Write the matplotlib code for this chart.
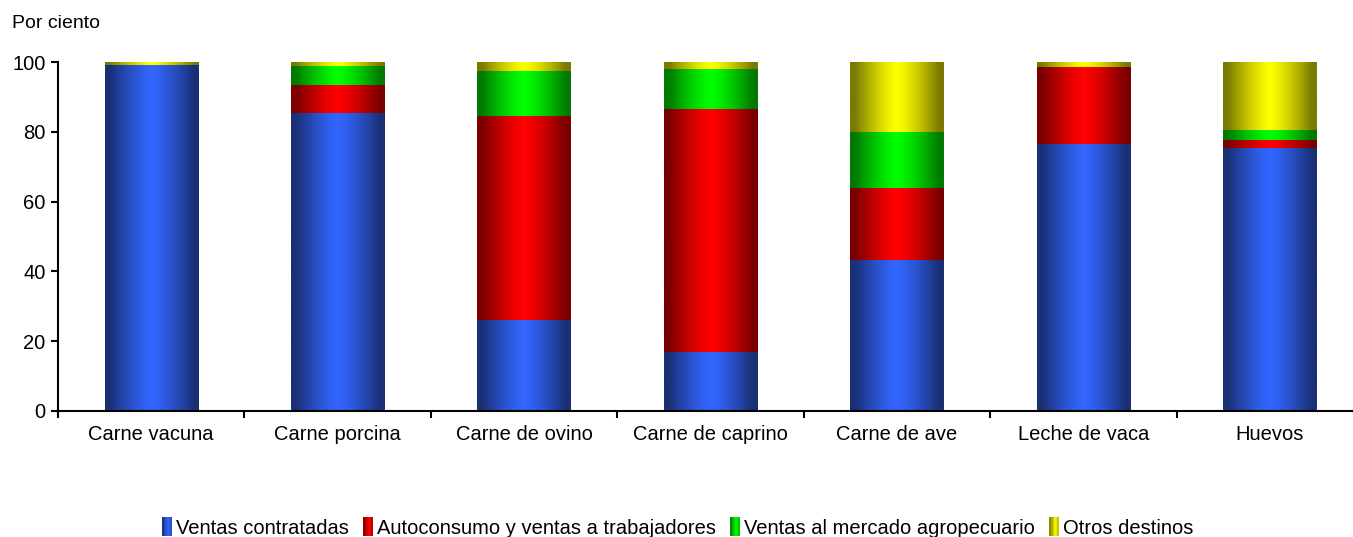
import matplotlib
matplotlib.use("Agg")
import matplotlib.pyplot as plt
import numpy as np
from matplotlib.colors import LinearSegmentedColormap
from matplotlib.patches import Rectangle
from matplotlib.legend_handler import HandlerBase

categorias = ["Carne vacuna", "Carne porcina", "Carne de ovino", "Carne de caprino",
              "Carne de ave", "Leche de vaca", "Huevos"]
series = ["Ventas contratadas", "Autoconsumo y ventas a trabajadores",
          "Ventas al mercado agropecuario", "Otros destinos"]
ventas_contratadas = [99.0, 85.4, 26.1, 17.0, 43.3, 76.5, 75.4]
autoconsumo = [0.0, 8.0, 58.4, 69.5, 20.6, 22.1, 2.3]
mercado_agro = [0.0, 5.5, 13.0, 11.5, 16.1, 0.0, 2.8]
otros = [1.0, 1.1, 2.5, 2.0, 20.0, 1.4, 19.5]
valores = [ventas_contratadas, autoconsumo, mercado_agro, otros]

# bright centre / dark edge for each series
claros = ["#3366ff", "#ff0000", "#00ff00", "#ffff00"]
oscuros = ["#1a3075", "#7a0000", "#007a00", "#7a7a00"]

plt.rcParams['font.family'] = ['Liberation Sans', 'DejaVu Sans']

fig = plt.figure(figsize=(13.53, 5.37), dpi=100)
ax = fig.add_axes([58 / 1353, 1 - 411 / 537, 1305 / 1353, 349 / 537])

x = np.arange(len(categorias))
grad = np.abs(np.linspace(-1, 1, 256))
grad = 1 - np.clip(grad / 0.9, 0, 1) ** 1.3
grad = grad.reshape(1, -1)

base = np.zeros(len(categorias))
for vals, claro, oscuro in zip(valores, claros, oscuros):
    cmap = LinearSegmentedColormap.from_list("g", [oscuro, claro])
    bars = ax.bar(x, vals, 0.5, bottom=base, color=claro, linewidth=0)
    for b in bars:
        if b.get_height() <= 0:
            continue
        im = ax.imshow(grad, cmap=cmap, aspect="auto", vmin=0, vmax=1,
                       extent=[b.get_x(), b.get_x() + b.get_width(),
                               b.get_y(), b.get_y() + b.get_height()],
                       interpolation="bilinear", zorder=2)
        im.set_clip_path(b)
    base += np.array(vals)

ax.set_xlim(-0.5, len(categorias) - 0.5)
ax.set_ylim(0, 100)
ax.set_yticks(range(0, 101, 20))
ax.set_xticks(x)
ax.set_xticklabels(categorias, fontsize=14.5)
ax.set_xticks(np.arange(-0.5, len(categorias), 1), minor=True)
ax.tick_params(axis="x", which="major", length=0, pad=10)
ax.tick_params(axis="x", which="minor", length=5, width=1.5, direction="out")
ax.tick_params(axis="y", labelsize=14.5, length=5, width=1.5, direction="out", pad=4)
for s in ["top", "right"]:
    ax.spines[s].set_visible(False)
ax.spines["left"].set_linewidth(1.5)
ax.spines["bottom"].set_linewidth(1.5)

fig.text(12 / 1353, 1 - 23 / 537, "Por ciento", fontsize=14, va="center")


class HandlerGradiente(HandlerBase):
    def create_artists(self, legend, orig_handle, xdescent, ydescent, width,
                       height, fontsize, trans):
        claro, oscuro = orig_handle
        cmap = LinearSegmentedColormap.from_list("g", [oscuro, claro])
        w = 7.0
        x0 = width - w
        artists = []
        n = 6
        for i in range(n):
            t = 1 - abs((i + 0.5) / n * 2 - 1.3) / 1.3
            artists.append(Rectangle((x0 + i * w / n - xdescent, -ydescent - 1),
                                     w / n + 0.3, height + 2,
                                     facecolor=cmap(t), linewidth=0, transform=trans))
        return artists


handles = list(zip(claros, oscuros))
fig.legend(handles, series, handler_map={tuple: HandlerGradiente()},
           loc="center", bbox_to_anchor=(0.5, 1 - 528 / 537), ncol=4, frameon=False,
           prop={'family': ['Liberation Sans Narrow', 'DejaVu Sans Condensed',
                            'Liberation Sans'], 'size': 14.5},
           handlelength=0.6, handletextpad=0.2, columnspacing=0.6, handleheight=0.8)

fig.savefig("out.png", dpi=100)
